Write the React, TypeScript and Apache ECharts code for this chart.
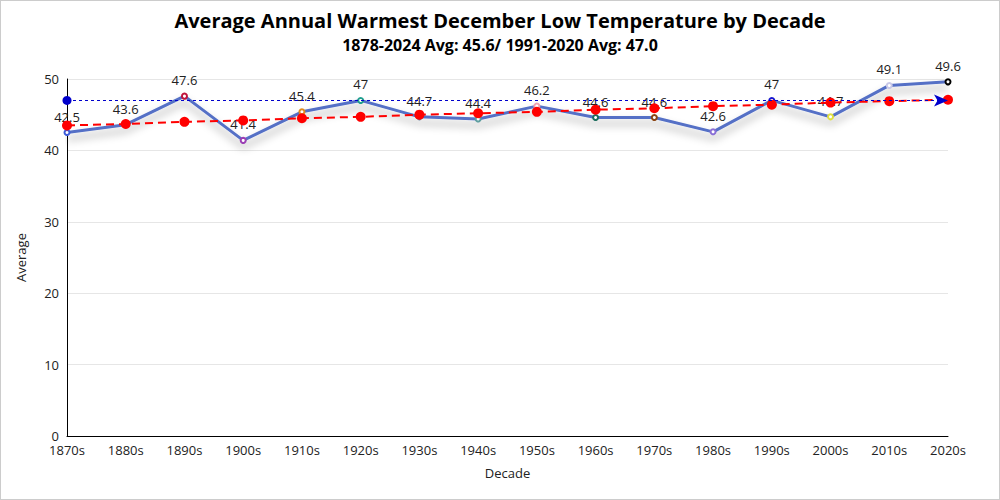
import React, { useEffect, useRef } from "react";
import * as echarts from "echarts";

const decades = ["1870s","1880s","1890s","1900s","1910s","1920s","1930s","1940s","1950s","1960s","1970s","1980s","1990s","2000s","2010s","2020s"];
const averages = [42.5,43.6,47.6,41.4,45.4,47,44.7,44.4,46.2,44.6,44.6,42.6,47,44.7,49.1,49.6];
const trend = [43.5,43.7,44.0,44.2,44.5,44.7,45.0,45.2,45.4,45.7,45.9,46.2,46.4,46.7,46.9,47.1];
const markerColors = ["#3b5bd9","#4a7a3a","#c0143c","#9b3fb5","#e08a1e","#1f9e8e","#6a7fa0","#5f9ea0","#f0a0b0","#1e6e5e","#8b4513","#8a6fd6","#1515d0","#e0e040","#c8c8e8","#000000"];
const normal = 47.0;

export default function App() {
  const ref = useRef<HTMLDivElement>(null);
  useEffect(() => {
    const chart = echarts.init(ref.current!, null, { renderer: "svg" });
    const font = "'Segoe UI', 'Open Sans', 'Noto Sans', sans-serif";
    chart.setOption({
      animation: false,
      textStyle: { fontFamily: font },
      title: {
        text: "Average Annual Warmest December Low Temperature by Decade",
        subtext: "1878-2024 Avg: 45.6/ 1991-2020 Avg: 47.0",
        left: "center",
        top: 4,
        itemGap: 7,
        textStyle: { fontSize: 20, fontWeight: "bold", color: "#000", fontFamily: font },
        subtextStyle: { fontSize: 16, fontWeight: "bold", color: "#000", fontFamily: font },
      },
      grid: { left: 66, right: 51, top: 78, bottom: 63 },
      xAxis: {
        type: "category",
        data: decades,
        boundaryGap: false,
        name: "Decade",
        nameLocation: "middle",
        nameGap: 30,
        nameTextStyle: { fontSize: 13, color: "#222" },
        axisLine: { lineStyle: { color: "#000" } },
        axisTick: { show: false },
        axisLabel: { fontSize: 13, color: "#222", margin: 7 },
      },
      yAxis: {
        type: "value",
        min: 0,
        max: 50,
        interval: 10,
        name: "Average",
        nameLocation: "middle",
        nameGap: 40,
        nameTextStyle: { fontSize: 13, color: "#222" },
        axisLine: { show: true, lineStyle: { color: "#000" } },
        axisTick: { show: false },
        axisLabel: { fontSize: 13, color: "#222", margin: 8 },
        splitLine: { lineStyle: { color: "#e6e6e6" } },
      },
      series: [
        {
          name: "Average",
          type: "line",
          data: averages.map((v, i) => ({
            value: v,
            itemStyle: { color: "#fff", borderColor: markerColors[i], borderWidth: 2 },
          })),
          symbol: "circle",
          symbolSize: 5,
          lineStyle: { color: "#5470c6", width: 3, shadowColor: "rgba(0,0,0,0.35)", shadowBlur: 8, shadowOffsetY: 6 },
          label: { show: true, position: "top", fontSize: 13, color: "#222", distance: 6 },
          z: 2,
          markLine: {
            silent: true,
            symbol: ["circle", "arrow"],
            symbolSize: [9, 14],
            label: { show: false },
            lineStyle: { color: "#0000cc", type: [3, 3], width: 1 },
            data: [[{ coord: [decades[0], normal] }, { coord: [decades[decades.length - 1], normal] }]],
          },
        },
        {
          name: "Trend",
          type: "line",
          data: trend,
          symbol: "circle",
          symbolSize: 10,
          itemStyle: { color: "#ff0000" },
          lineStyle: { color: "#ff0000", width: 2, type: [8, 5] },
          z: 3,
        },
      ],
    });
    return () => chart.dispose();
  }, []);
  return (
    <div
      ref={ref}
      style={{ position: "fixed", left: 0, top: 0, width: 1000, height: 500, boxSizing: "border-box", border: "1px solid #ccc", background: "#fff" }}
    />
  );
}
